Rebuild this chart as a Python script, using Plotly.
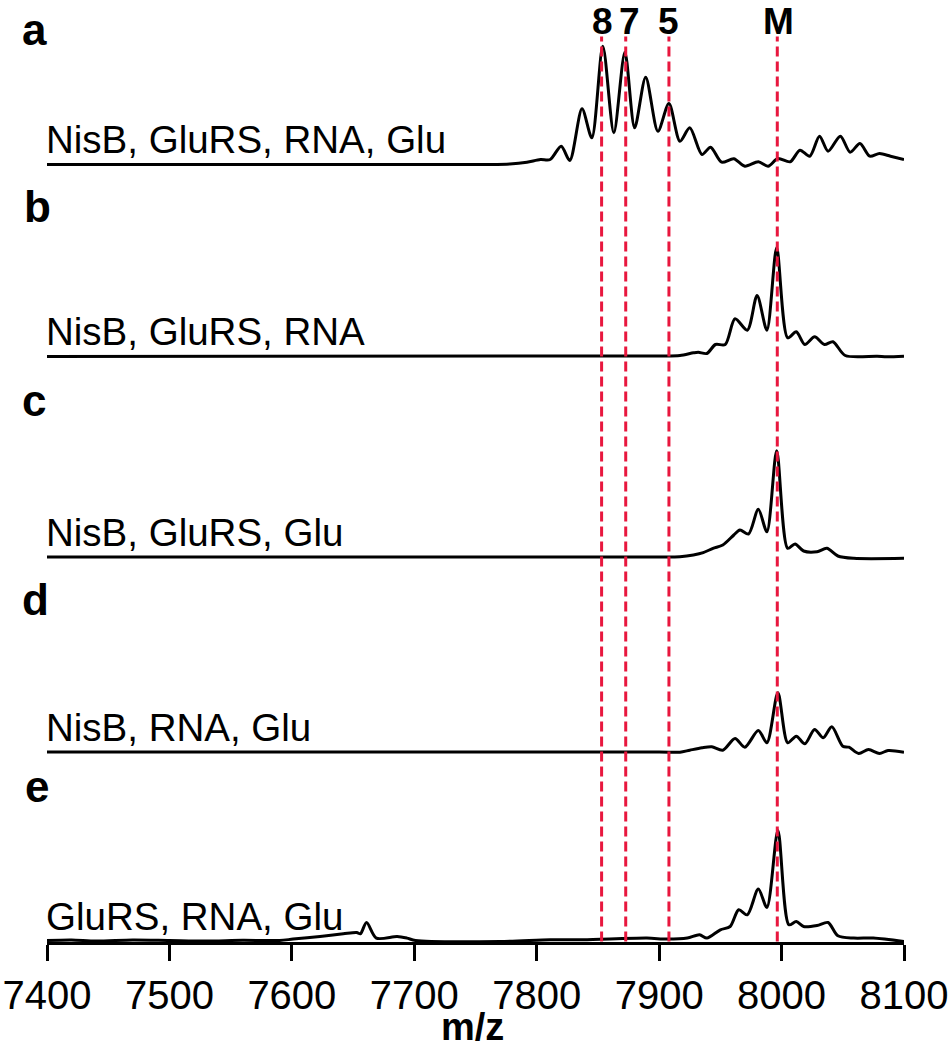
import plotly.graph_objects as go

# ---- data (m/z, relative intensity) ----
mz_a = [7400, 7760, 7778, 7792, 7803, 7811, 7820, 7827, 7837, 7845, 7854, 7863, 7872, 7880, 7889, 7899, 7908,
        7917, 7925, 7935, 7942, 7951, 7961, 7970, 7981, 7989, 7997, 8007, 8015, 8023, 8031, 8038, 8048,
        8056, 8064, 8072, 8080, 8089, 8100]
int_a = [0, 0, 0.5, 2.3, 5, 5, 18.3, 4, 55.7, 26.7, 118.3, 31.7, 112.3, 36.7, 87.3, 33.3, 61,
         23.3, 36.7, 10, 17.3, 2.3, 5.7, -1.7, 2.7, -1.7, 6, 2.7, 14.3, 8.3, 28.3, 13.3, 28.3,
         12.3, 21, 8.3, 11, 8.3, 5]

mz_b = [7400, 7900, 7917, 7928, 7932, 7939, 7946, 7954, 7962, 7972, 7980, 7988, 7996, 8005, 8012, 8019, 8027,
        8035, 8042, 8052, 8078, 8086, 8100]
int_b = [0, 0.5, 1, 3.7, 4.3, 3, 12, 12, 37.7, 26.3, 61, 26.3, 108.7, 18.7, 24.7, 12, 19.7,
         12, 14.7, 1, 0.3, -0.3, 0.3]

mz_c = [7400, 7900, 7917, 7928, 7936, 7944, 7952, 7961, 7966, 7973, 7981, 7988, 7996, 8005, 8011, 8018, 8029,
        8037, 8046, 8059, 8100]
int_c = [0, 0, 0.3, 2, 4.3, 8.7, 12, 22, 27, 23, 47.7, 25.3, 106.3, 8.7, 13, 6, 5.3,
         8.7, 1, -1.3, -1.3]

mz_d = [7400, 7900, 7917, 7925, 7935, 7943, 7952, 7962, 7970, 7981, 7988, 7997, 8005, 8012, 8019, 8027, 8034,
        8041, 8050, 8055, 8063, 8071, 8080, 8087, 8100]
int_d = [0, 0, -0.2, 1.8, 4.2, 5.2, 1.8, 13.5, 4.8, 21.5, 9.2, 59.2, 9.2, 15.8, 8.2, 22.5, 14.2,
         25.2, 5.8, 4.8, -1.5, 2.5, -1.5, 1.5, -0.2]

mz_e = [7400, 7420, 7440, 7470, 7500, 7530, 7560, 7590, 7601, 7623, 7642, 7653, 7656, 7661, 7669, 7686,
        7694, 7701, 7770, 7811, 7838, 7890, 7906, 7923, 7933, 7939, 7950, 7958, 7965, 7972, 7981, 7988,
        7997, 8006, 8012, 8018, 8029, 8038, 8046, 8059, 8075, 8100]
int_e = [1, 1.5, 0.5, 1.5, 1, 0.5, 1.2, 1, 2.4, 5, 7.7, 9, 7.7, 19, 3.4, 5,
         3.4, 1, 0, 1.7, 1.7, 3.4, 2.4, 3.4, 6.7, 3.4, 11.7, 15, 31.7, 26.7, 52.4, 34,
         111, 16.7, 20, 15, 16, 19, 5.7, 3.4, 3.4, 0]

panel_letters = ["a", "b", "c", "d", "e"]
panel_labels = ["NisB, GluRS, RNA, Glu", "NisB, GluRS, RNA", "NisB, GluRS, Glu",
                "NisB, RNA, Glu", "GluRS, RNA, Glu"]
marker_names = ["8", "7", "5", "M"]
marker_mz = [7853, 7872.7, 7908, 7996.5]
tick_vals = [7400, 7500, 7600, 7700, 7800, 7900, 8000, 8100]
x_title = "m/z"

# ---- layout constants ----
offsets = [777, 585, 384.5, 189.5, 0]
letter_y = [912, 735, 541, 342, 155]
letter_shift = [-27, -25, -27, -27, -24]
FONT = "Liberation Sans, Arial, Helvetica, sans-serif"
RED = "#E8173E"

series = [(mz_a, int_a), (mz_b, int_b), (mz_c, int_c), (mz_d, int_d), (mz_e, int_e)]

fig = go.Figure()
for (mz, iv), off in zip(series, offsets):
    fig.add_trace(go.Scatter(
        x=mz, y=[v + off for v in iv], mode="lines",
        line=dict(color="black", width=3, shape="spline", smoothing=0.8),
        showlegend=False, hoverinfo="skip"))

for m in marker_mz:
    fig.add_shape(type="line", xref="x", yref="y", x0=m, x1=m, y0=0, y1=905,
                  line=dict(color=RED, width=3, dash="10px,5px"), layer="above")

ann = []
for name, m, dx in zip(marker_names, marker_mz, [1, 4, 0, 1]):
    ann.append(dict(x=m, y=920, xref="x", yref="y", text=name, showarrow=False,
                    xanchor="center", yanchor="middle", xshift=dx,
                    font=dict(family=FONT, size=37, color="black", weight="bold")))
for lab, off in zip(panel_labels, offsets):
    ann.append(dict(x=0, y=off + 25, xref="paper", yref="y", text=lab, showarrow=False,
                    xanchor="left", yanchor="middle", xshift=-3,
                    font=dict(family=FONT, size=38.5, color="black")))
for let, ly, sh in zip(panel_letters, letter_y, letter_shift):
    ann.append(dict(x=0, y=ly, xref="paper", yref="y", text=let, showarrow=False,
                    xanchor="left", yanchor="middle", xshift=sh,
                    font=dict(family=FONT, size=44, color="black", weight="bold")))
ann.append(dict(x=0.497, y=-0.1145, xref="paper", yref="paper", text=x_title, showarrow=False,
                xanchor="center", yanchor="bottom",
                font=dict(family=FONT, size=38, color="black", weight="bold")))

fig.update_layout(
    width=950, height=1050,
    margin=dict(l=47, r=46, t=0, b=108),
    paper_bgcolor="white", plot_bgcolor="white",
    annotations=ann,
    xaxis=dict(range=[7400, 8100], tickvals=tick_vals, ticks="outside", ticklen=16,
               tickwidth=3, tickcolor="black", showline=True, linewidth=3, linecolor="black",
               showgrid=False, zeroline=False,
               tickfont=dict(family=FONT, size=40, color="black")),
    yaxis=dict(range=[-0.5, 941.5], visible=False, showgrid=False, zeroline=False),
)

fig.write_html("out.html", config={"displayModeBar": False},
               post_script="document.body.style.margin='0';document.body.style.overflow='hidden';")
